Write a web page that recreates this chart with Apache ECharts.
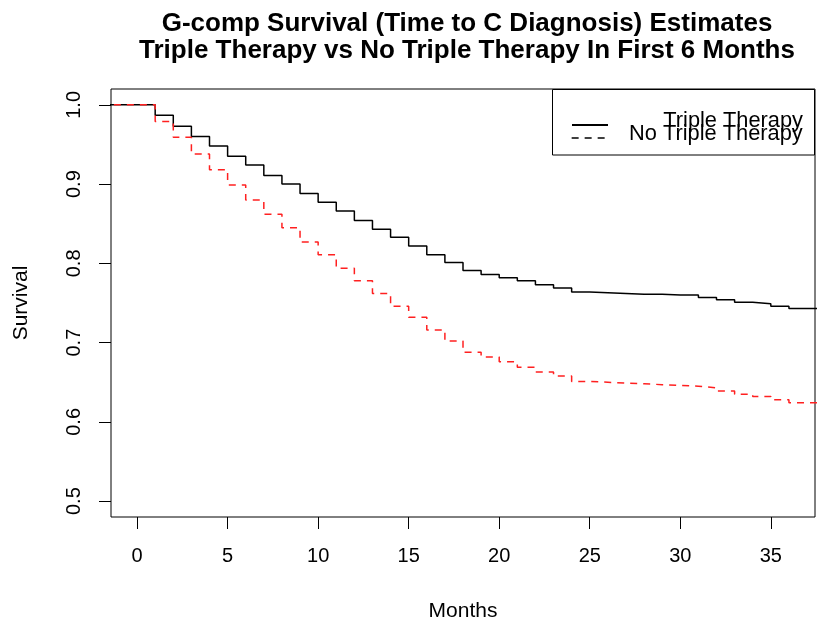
<!DOCTYPE html>
<html>
<head>
<meta charset="utf-8">
<script src="https://cdn.jsdelivr.net/npm/echarts@6/dist/echarts.min.js"></script>
<style>html,body{margin:0;padding:0;background:#fff}#c{width:817px;height:627px}</style>
</head>
<body>
<div id="c"></div>
<script>
// Months (steps at each month); -2 and 38 only carry the first/last level to the plot edges
const months = [-2,0,1,2,3,4,5,6,7,8,9,10,11,12,13,14,15,16,17,18,19,20,21,22,23,24,25,26,27,28,29,30,31,32,33,34,35,36,38];
const tripleTherapy = [1.0,1.0,0.987,0.973,0.960,0.948,0.935,0.924,0.911,0.900,0.888,0.877,0.866,0.854,0.843,0.833,0.822,0.811,0.801,0.791,0.786,0.782,0.778,0.773,0.769,0.764,0.763,0.762,0.761,0.761,0.760,0.760,0.757,0.754,0.751,0.749,0.746,0.743,0.743];
const noTripleTherapy = [1.0,1.0,0.979,0.959,0.938,0.918,0.899,0.880,0.862,0.845,0.827,0.811,0.794,0.778,0.762,0.746,0.732,0.716,0.702,0.688,0.682,0.676,0.669,0.663,0.658,0.651,0.650,0.649,0.648,0.647,0.646,0.645,0.643,0.639,0.635,0.632,0.628,0.624,0.624];
const xTicks = [0,5,10,15,20,25,30,35];
const yTicks = [0.5,0.6,0.7,0.8,0.9,1.0];
const seriesNames = ['Triple Therapy','No Triple Therapy'];
const titleLines = ['G-comp Survival (Time to C Diagnosis) Estimates','Triple Therapy vs No Triple Therapy In First 6 Months'];

const FONT = "'Liberation Sans', Arial, Helvetica, sans-serif";
const chart = echarts.init(document.getElementById('c'), null, {renderer:'canvas'});
const pair = (ys) => months.map((m,i) => [m, ys[i]]);

const legendCommon = {
  orient: 'vertical', left: 571, padding: 0,
  itemWidth: 36, itemHeight: 13, itemGap: 0, itemTextGap: 5,
  icon: 'inherit', selectedMode: false,
  itemStyle: {opacity: 0},
  formatter: (n) => '{t|' + n + '}',
  textStyle: {rich: {t: {width: 190, align: 'right', fontSize: 21.8, lineHeight: 13, fontFamily: FONT, color: '#000', padding: [0, 0, 8, 0]}}}
};

chart.setOption({
  animation: false,
  backgroundColor: '#fff',
  title: {
    text: titleLines.join('\n'),
    left: 462, top: 5, textAlign: 'center',
    textStyle: {fontFamily: FONT, fontWeight: 'bold', fontSize: 26, lineHeight: 27.5, color: '#000'}
  },
  grid: {left: 111, right: 2, top: 89, bottom: 110, outerBoundsMode: 'none', containLabel: false,
         show: true, borderColor: '#000', borderWidth: 1, backgroundColor: 'transparent'},
  graphic: [{type: 'rect', z: 3, shape: {x: 552.5, y: 89.5, width: 262, height: 65.5},
             style: {fill: '#fff', stroke: '#000', lineWidth: 1}}],
  legend: [
    Object.assign({}, legendCommon, {top: 110, data: [{name: seriesNames[0]}]}),
    Object.assign({}, legendCommon, {top: 123, data: [{name: seriesNames[1], lineStyle: {color: '#000', type: [7, 6], width: 1.3}}]})
  ],
  xAxis: {
    type: 'value', min: -1.44, max: 37.44,
    name: 'Months', nameLocation: 'middle', nameGap: 84,
    nameTextStyle: {fontFamily: FONT, fontSize: 21, color: '#000'},
    axisLine: {show: false, onZero: false},
    axisTick: {show: true, length: 12, lineStyle: {color: '#000', width: 1}, customValues: xTicks},
    axisLabel: {margin: 29, fontFamily: FONT, fontSize: 20, color: '#000', customValues: xTicks},
    splitLine: {show: false}
  },
  yAxis: {
    type: 'value', min: 0.48, max: 1.02,
    name: 'Survival', nameLocation: 'middle', nameGap: 79, nameRotate: 90,
    nameTextStyle: {fontFamily: FONT, fontSize: 21, color: '#000'},
    axisLine: {show: false, onZero: false},
    axisTick: {show: true, length: 12, lineStyle: {color: '#000', width: 1}, customValues: yTicks},
    axisLabel: {margin: 27, rotate: 90, fontFamily: FONT, fontSize: 20, color: '#000', customValues: yTicks, formatter: (v) => v.toFixed(1)},
    splitLine: {show: false}
  },
  series: [
    {name: seriesNames[0], type: 'line', step: 'end', data: pair(tripleTherapy), symbol: 'none', clip: true,
     lineStyle: {color: '#000', width: 1.5}, itemStyle: {color: '#000'}},
    {name: seriesNames[1], type: 'line', step: 'end', data: pair(noTripleTherapy), symbol: 'none', clip: true,
     lineStyle: {color: '#ff2020', width: 1.5, type: [7, 6]}, itemStyle: {color: '#ff2020'}}
  ]
});
</script>
</body>
</html>
